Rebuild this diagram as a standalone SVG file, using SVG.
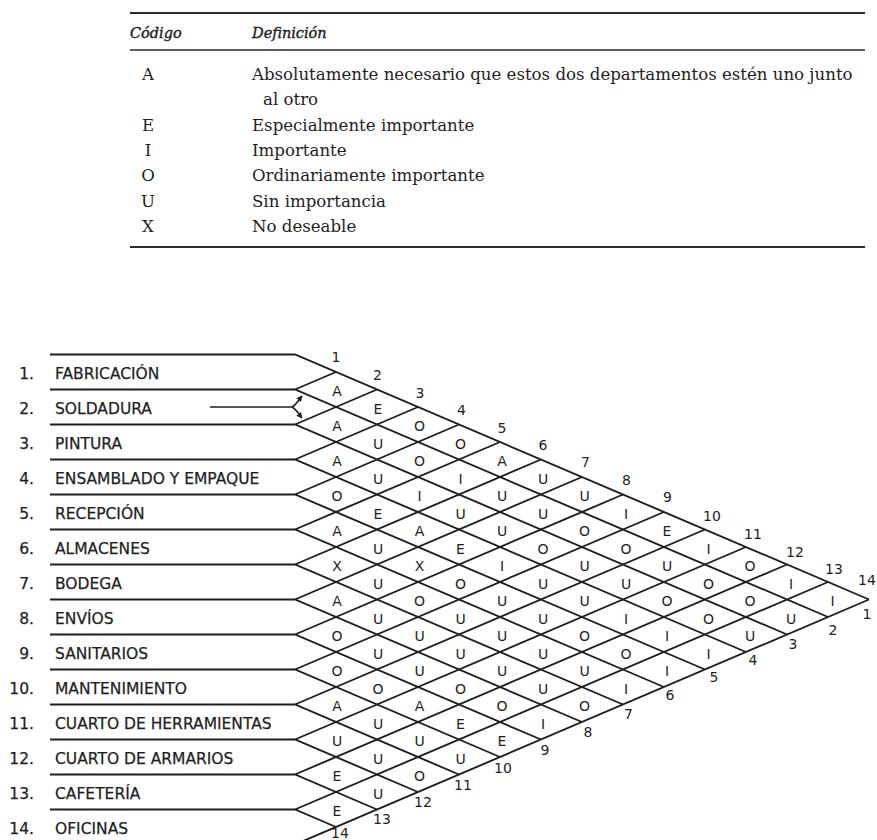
<svg xmlns="http://www.w3.org/2000/svg" width="877" height="840" viewBox="0 0 877 840">
  <style>
    .rule { stroke: #2a2a2a; fill: none; }
    .hd { font-family: "DejaVu Serif", "Liberation Serif", serif; font-style: italic; font-size: 14.5px; fill: #1e1e1e; stroke: #1e1e1e; stroke-width: 0.4; }
    .code { font-family: "DejaVu Serif", "Liberation Serif", serif; font-size: 16.6px; fill: #1e1e1e; text-anchor: middle; }
    .def { font-family: "DejaVu Serif", "Liberation Serif", serif; font-size: 16.6px; fill: #1e1e1e; }
    .num { font-family: "DejaVu Sans", "Liberation Sans", sans-serif; font-size: 15.5px; fill: #1e1e1e; stroke: #1e1e1e; stroke-width: 0.25; text-anchor: end; }
    .name { font-family: "DejaVu Sans", "Liberation Sans", sans-serif; font-size: 15.5px; fill: #1e1e1e; stroke: #1e1e1e; stroke-width: 0.25; }
    .grid { stroke: #1e1e1e; stroke-width: 1.9; fill: none; stroke-linejoin: miter; }
    .cell { font-family: "DejaVu Sans", "Liberation Sans", sans-serif; font-size: 14px; fill: #1e1e1e; text-anchor: middle; }
    .idx { font-family: "DejaVu Sans", "Liberation Sans", sans-serif; font-size: 14px; fill: #1e1e1e; text-anchor: middle; }
  </style>
  <defs>
    <marker id="head" viewBox="0 0 10 10" refX="9" refY="5" markerWidth="6" markerHeight="6" orient="auto" markerUnits="userSpaceOnUse">
      <path d="M0,0 L10,5 L0,10 Z" fill="#1e1e1e"/>
    </marker>
  </defs>
  <rect width="877" height="840" fill="#ffffff"/>

  <!-- Legend table of closeness codes -->
  <g id="legend">
    <path class="rule" d="M130,13 H865" stroke-width="2.2"/>
    <text class="hd" x="130" y="38">Código</text>
    <text class="hd" x="252" y="38">Definición</text>
    <path class="rule" d="M130,50 H865" stroke-width="1.6"/>
    <text class="code" x="148" y="80">A</text>
    <text class="def" x="252" y="80">Absolutamente necesario que estos dos departamentos estén uno junto</text>
    <text class="def" x="263" y="105">al otro</text>
    <text class="code" x="148" y="130.5">E</text>
    <text class="def" x="252" y="130.5">Especialmente importante</text>
    <text class="code" x="148" y="156">I</text>
    <text class="def" x="252" y="156">Importante</text>
    <text class="code" x="148" y="181">O</text>
    <text class="def" x="252" y="181">Ordinariamente importante</text>
    <text class="code" x="148" y="206.5">U</text>
    <text class="def" x="252" y="206.5">Sin importancia</text>
    <text class="code" x="148" y="232">X</text>
    <text class="def" x="252" y="232">No deseable</text>
    <path class="rule" d="M130,247 H865" stroke-width="2.2"/>
  </g>

  <!-- Department rows -->
  <g id="departments">
    <g id="dept-1"><text class="num" x="34" y="379">1.</text><text class="name" x="55" y="379">FABRICACIÓN</text></g>
    <g id="dept-2"><text class="num" x="34" y="414">2.</text><text class="name" x="55" y="414">SOLDADURA</text></g>
    <g id="dept-3"><text class="num" x="34" y="449">3.</text><text class="name" x="55" y="449">PINTURA</text></g>
    <g id="dept-4"><text class="num" x="34" y="484">4.</text><text class="name" x="55" y="484">ENSAMBLADO Y EMPAQUE</text></g>
    <g id="dept-5"><text class="num" x="34" y="519">5.</text><text class="name" x="55" y="519">RECEPCIÓN</text></g>
    <g id="dept-6"><text class="num" x="34" y="554">6.</text><text class="name" x="55" y="554">ALMACENES</text></g>
    <g id="dept-7"><text class="num" x="34" y="589">7.</text><text class="name" x="55" y="589">BODEGA</text></g>
    <g id="dept-8"><text class="num" x="34" y="624">8.</text><text class="name" x="55" y="624">ENVÍOS</text></g>
    <g id="dept-9"><text class="num" x="34" y="659">9.</text><text class="name" x="55" y="659">SANITARIOS</text></g>
    <g id="dept-10"><text class="num" x="34" y="694">10.</text><text class="name" x="55" y="694">MANTENIMIENTO</text></g>
    <g id="dept-11"><text class="num" x="34" y="729">11.</text><text class="name" x="55" y="729">CUARTO DE HERRAMIENTAS</text></g>
    <g id="dept-12"><text class="num" x="34" y="764">12.</text><text class="name" x="55" y="764">CUARTO DE ARMARIOS</text></g>
    <g id="dept-13"><text class="num" x="34" y="799">13.</text><text class="name" x="55" y="799">CAFETERÍA</text></g>
    <g id="dept-14"><text class="num" x="34" y="834">14.</text><text class="name" x="55" y="834">OFICINAS</text></g>
  </g>

  <!-- Row rules and the diagonal lattice of the relationship chart -->
  <g id="connectors" class="grid">
    <path d="M50,354.5 H295 L869,599.5"/>
    <path d="M50,389.5 H295 L828,617 M295,389.5 L336,372"/>
    <path d="M50,424.5 H295 L787,634.5 M295,424.5 L377,389.5"/>
    <path d="M50,459.5 H295 L746,652 M295,459.5 L418,407"/>
    <path d="M50,494.5 H295 L705,669.5 M295,494.5 L459,424.5"/>
    <path d="M50,529.5 H295 L664,687 M295,529.5 L500,442"/>
    <path d="M50,564.5 H295 L623,704.5 M295,564.5 L541,459.5"/>
    <path d="M50,599.5 H295 L582,722 M295,599.5 L582,477"/>
    <path d="M50,634.5 H295 L541,739.5 M295,634.5 L623,494.5"/>
    <path d="M50,669.5 H295 L500,757 M295,669.5 L664,512"/>
    <path d="M50,704.5 H295 L459,774.5 M295,704.5 L705,529.5"/>
    <path d="M50,739.5 H295 L418,792 M295,739.5 L746,547"/>
    <path d="M50,774.5 H295 L377,809.5 M295,774.5 L787,564.5"/>
    <path d="M50,809.5 H295 L336,827 M295,809.5 L828,582"/>
    <path d="M50,844.5 H295 L869,599.5"/>
    <!-- forked pointer in the SOLDADURA row -->
    <g id="pointer" stroke-width="1.6">
      <path d="M210,407 H292"/>
      <path d="M292,407 C296,405 298,401 302,396" marker-end="url(#head)"/>
      <path d="M292,407 C296,409 298,413 302,418" marker-end="url(#head)"/>
    </g>
  </g>

  <!-- Column / row indices along the two edges -->
  <g id="indices">
    <text class="idx" x="336" y="362">1</text>
    <text class="idx" x="377.5" y="380">2</text>
    <text class="idx" x="420" y="397.5">3</text>
    <text class="idx" x="461.5" y="415">4</text>
    <text class="idx" x="502" y="432.5">5</text>
    <text class="idx" x="543" y="450">6</text>
    <text class="idx" x="585.5" y="467">7</text>
    <text class="idx" x="626.5" y="484.5">8</text>
    <text class="idx" x="667.5" y="502">9</text>
    <text class="idx" x="712" y="521">10</text>
    <text class="idx" x="753" y="539">11</text>
    <text class="idx" x="795" y="556.5">12</text>
    <text class="idx" x="834" y="574">13</text>
    <text class="idx" x="867" y="585">14</text>

    <text class="idx" x="867" y="619">1</text>
    <text class="idx" x="833" y="635">2</text>
    <text class="idx" x="793" y="649">3</text>
    <text class="idx" x="753" y="665">4</text>
    <text class="idx" x="714" y="682">5</text>
    <text class="idx" x="670" y="700">6</text>
    <text class="idx" x="628.5" y="719">7</text>
    <text class="idx" x="588" y="737">8</text>
    <text class="idx" x="545" y="755">9</text>
    <text class="idx" x="503" y="773">10</text>
    <text class="idx" x="463" y="790">11</text>
    <text class="idx" x="423" y="807">12</text>
    <text class="idx" x="382" y="824">13</text>
    <text class="idx" x="340" y="838">14</text>
  </g>

  <!-- Closeness ratings, one per diamond -->
  <g id="ratings">
    <!-- pairs (i, i+1) -->
    <text class="cell" x="337" y="396">A</text>
    <text class="cell" x="337" y="431">A</text>
    <text class="cell" x="337" y="466">A</text>
    <text class="cell" x="337" y="501">O</text>
    <text class="cell" x="337" y="536">A</text>
    <text class="cell" x="337" y="571">X</text>
    <text class="cell" x="337" y="606">A</text>
    <text class="cell" x="337" y="641">O</text>
    <text class="cell" x="337" y="676">O</text>
    <text class="cell" x="337" y="711">A</text>
    <text class="cell" x="337" y="746">U</text>
    <text class="cell" x="337" y="781">E</text>
    <text class="cell" x="337" y="816">E</text>
    <!-- pairs (i, i+2) -->
    <text class="cell" x="378" y="413.5">E</text>
    <text class="cell" x="378" y="448.5">U</text>
    <text class="cell" x="378" y="483.5">U</text>
    <text class="cell" x="378" y="518.5">E</text>
    <text class="cell" x="378" y="553.5">U</text>
    <text class="cell" x="378" y="588.5">U</text>
    <text class="cell" x="378" y="623.5">U</text>
    <text class="cell" x="378" y="658.5">U</text>
    <text class="cell" x="378" y="693.5">O</text>
    <text class="cell" x="378" y="728.5">U</text>
    <text class="cell" x="378" y="763.5">U</text>
    <text class="cell" x="378" y="798.5">U</text>
    <!-- pairs (i, i+3) -->
    <text class="cell" x="419.5" y="431">O</text>
    <text class="cell" x="419.5" y="466">O</text>
    <text class="cell" x="419.5" y="501">I</text>
    <text class="cell" x="419.5" y="536">A</text>
    <text class="cell" x="419.5" y="571">X</text>
    <text class="cell" x="419.5" y="606">O</text>
    <text class="cell" x="419.5" y="641">U</text>
    <text class="cell" x="419.5" y="676">U</text>
    <text class="cell" x="419.5" y="711">A</text>
    <text class="cell" x="419.5" y="746">U</text>
    <text class="cell" x="419.5" y="781">O</text>
    <!-- pairs (i, i+4) -->
    <text class="cell" x="460.5" y="448.5">O</text>
    <text class="cell" x="460.5" y="483.5">I</text>
    <text class="cell" x="460.5" y="518.5">U</text>
    <text class="cell" x="460.5" y="553.5">E</text>
    <text class="cell" x="460.5" y="588.5">O</text>
    <text class="cell" x="460.5" y="623.5">U</text>
    <text class="cell" x="460.5" y="658.5">U</text>
    <text class="cell" x="460.5" y="693.5">O</text>
    <text class="cell" x="460.5" y="728.5">E</text>
    <text class="cell" x="460.5" y="763.5">U</text>
    <!-- pairs (i, i+5) -->
    <text class="cell" x="502" y="466">A</text>
    <text class="cell" x="502" y="501">U</text>
    <text class="cell" x="502" y="536">U</text>
    <text class="cell" x="502" y="571">I</text>
    <text class="cell" x="502" y="606">U</text>
    <text class="cell" x="502" y="641">U</text>
    <text class="cell" x="502" y="676">U</text>
    <text class="cell" x="502" y="711">O</text>
    <text class="cell" x="502" y="746">E</text>
    <!-- pairs (i, i+6) -->
    <text class="cell" x="543" y="483.5">U</text>
    <text class="cell" x="543" y="518.5">U</text>
    <text class="cell" x="543" y="553.5">O</text>
    <text class="cell" x="543" y="588.5">U</text>
    <text class="cell" x="543" y="623.5">U</text>
    <text class="cell" x="543" y="658.5">U</text>
    <text class="cell" x="543" y="693.5">U</text>
    <text class="cell" x="543" y="728.5">I</text>
    <!-- pairs (i, i+7) -->
    <text class="cell" x="584.5" y="501">U</text>
    <text class="cell" x="584.5" y="536">O</text>
    <text class="cell" x="584.5" y="571">U</text>
    <text class="cell" x="584.5" y="606">U</text>
    <text class="cell" x="584.5" y="641">O</text>
    <text class="cell" x="584.5" y="676">U</text>
    <text class="cell" x="584.5" y="711">O</text>
    <!-- pairs (i, i+8) -->
    <text class="cell" x="626" y="518.5">I</text>
    <text class="cell" x="626" y="553.5">O</text>
    <text class="cell" x="626" y="588.5">U</text>
    <text class="cell" x="626" y="623.5">I</text>
    <text class="cell" x="626" y="658.5">O</text>
    <text class="cell" x="626" y="693.5">I</text>
    <!-- pairs (i, i+9) -->
    <text class="cell" x="667" y="536">E</text>
    <text class="cell" x="667" y="571">U</text>
    <text class="cell" x="667" y="606">O</text>
    <text class="cell" x="667" y="641">I</text>
    <text class="cell" x="667" y="676">I</text>
    <!-- pairs (i, i+10) -->
    <text class="cell" x="708.5" y="553.5">I</text>
    <text class="cell" x="708.5" y="588.5">O</text>
    <text class="cell" x="708.5" y="623.5">O</text>
    <text class="cell" x="708.5" y="658.5">I</text>
    <!-- pairs (i, i+11) -->
    <text class="cell" x="750" y="571">O</text>
    <text class="cell" x="750" y="606">O</text>
    <text class="cell" x="750" y="641">U</text>
    <!-- pairs (i, i+12) -->
    <text class="cell" x="791" y="588.5">I</text>
    <text class="cell" x="791" y="623.5">U</text>
    <!-- pair (1, 14) -->
    <text class="cell" x="832.5" y="606">I</text>
  </g>
</svg>
